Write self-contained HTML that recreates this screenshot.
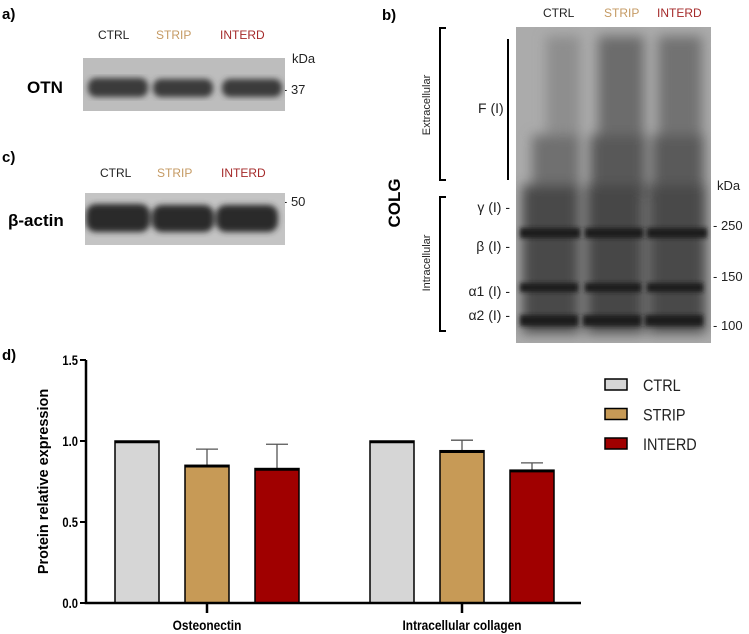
<!DOCTYPE html>
<html><head><meta charset="utf-8">
<style>
body{margin:0;background:#fff;width:749px;height:634px;overflow:hidden;font-family:"Liberation Sans",sans-serif;}
svg{display:block}
</style></head>
<body>
<svg width="749" height="634" viewBox="0 0 749 634" xmlns="http://www.w3.org/2000/svg">
<defs>
<filter id="bl" x="-20%" y="-20%" width="140%" height="140%"><feGaussianBlur stdDeviation="3"/></filter>
<filter id="bl5" x="-20%" y="-20%" width="140%" height="140%"><feGaussianBlur stdDeviation="6"/></filter>
<filter id="bl2" x="-20%" y="-50%" width="140%" height="200%"><feGaussianBlur stdDeviation="2.2"/></filter>
<clipPath id="cb"><rect x="516" y="27" width="195" height="316"/></clipPath>
<clipPath id="ca"><rect x="83" y="58" width="202" height="53"/></clipPath>
<clipPath id="cc"><rect x="85" y="193" width="200" height="52"/></clipPath>
</defs>

<g>
<text x="2" y="19" font-size="15" font-weight="bold">a)</text>
<text x="98" y="39" font-size="12" fill="#222">CTRL</text>
<text x="156" y="39" font-size="12" fill="#c59a63">STRIP</text>
<text x="220" y="39" font-size="12" fill="#a52a2a">INTERD</text>
<text x="292" y="63" font-size="13" fill="#222">kDa</text>
<text x="283" y="94" font-size="13" fill="#222">- 37</text>
<text x="27" y="93" font-size="17" font-weight="bold">OTN</text>
<g clip-path="url(#ca)">
<rect x="83" y="58" width="202" height="53" fill="#bdbdbd"/>
<g filter="url(#bl)" fill="#3a3a3a">
<rect x="88" y="78" width="60" height="19" rx="8"/>
<rect x="153" y="79" width="60" height="18" rx="8"/>
<rect x="222" y="79" width="60" height="18" rx="8"/>
</g></g>
</g>

<g>
<text x="2" y="162" font-size="15" font-weight="bold">c)</text>
<text x="100" y="177" font-size="12" fill="#222">CTRL</text>
<text x="157" y="177" font-size="12" fill="#c59a63">STRIP</text>
<text x="221" y="177" font-size="12" fill="#a52a2a">INTERD</text>
<text x="283" y="206" font-size="13" fill="#222">- 50</text>
<text x="8" y="226" font-size="17" font-weight="bold">β-actin</text>
<g clip-path="url(#cc)">
<rect x="85" y="193" width="200" height="52" fill="#c4c4c4"/>
<g filter="url(#bl)" fill="#2a2a2a">
<rect x="86" y="204" width="64" height="28" rx="10"/>
<rect x="152" y="205" width="62" height="27" rx="10"/>
<rect x="216" y="205" width="62" height="27" rx="10"/>
</g></g>
</g>

<g>
<text x="382" y="20" font-size="15" font-weight="bold">b)</text>
<text x="543" y="17" font-size="12" fill="#222">CTRL</text>
<text x="604" y="17" font-size="12" fill="#c59a63">STRIP</text>
<text x="657" y="17" font-size="12" fill="#a52a2a">INTERD</text>
<g clip-path="url(#cb)">
<rect x="516" y="27" width="195" height="316" fill="#ababab"/>
<g filter="url(#bl5)">
<rect x="546" y="36" width="34" height="120" fill="#8e8e8e"/>
<rect x="598" y="36" width="46" height="120" fill="#6c6c6c"/>
<rect x="658" y="36" width="44" height="120" fill="#727272"/>
<rect x="532" y="135" width="48" height="60" fill="#707070"/>
<rect x="590" y="135" width="56" height="60" fill="#585858"/>
<rect x="652" y="135" width="52" height="60" fill="#5a5a5a"/>
<rect x="522" y="185" width="58" height="148" fill="#4a4a4a"/>
<rect x="586" y="185" width="58" height="148" fill="#474747"/>
<rect x="648" y="185" width="58" height="148" fill="#494949"/>
</g>
<g filter="url(#bl2)" fill="#1e1e1e">
<rect x="520" y="228" width="60" height="10"/><rect x="585" y="228" width="58" height="10"/><rect x="647" y="228" width="60" height="10"/>
<rect x="520" y="283" width="58" height="9"/><rect x="585" y="283" width="56" height="9"/><rect x="647" y="283" width="56" height="9"/>
<rect x="520" y="315" width="58" height="11"/><rect x="583" y="315" width="58" height="11"/><rect x="645" y="315" width="58" height="11"/>
</g>
</g>
<path d="M446,28 H440 V180 H446" fill="none" stroke="#000" stroke-width="2"/>
<line x1="508" y1="39" x2="508" y2="180" stroke="#000" stroke-width="2"/>
<text transform="translate(430,105) rotate(-90)" text-anchor="middle" font-size="11" fill="#222">Extracellular</text>
<text x="478" y="113" font-size="14" fill="#222">F (I)</text>
<text transform="translate(400,203) rotate(-90)" text-anchor="middle" font-size="17" font-weight="bold">COLG</text>
<path d="M446,197 H440 V331 H446" fill="none" stroke="#000" stroke-width="2"/>
<text transform="translate(430,263) rotate(-90)" text-anchor="middle" font-size="11" fill="#222">Intracellular</text>
<g font-size="14" fill="#222" text-anchor="end">
<text x="510" y="212">γ (I)  -</text>
<text x="510" y="251">β (I)  -</text>
<text x="510" y="296">α1 (I)  -</text>
<text x="510" y="320">α2 (I)  -</text>
</g>
<g font-size="13" fill="#222">
<text x="717" y="190">kDa</text>
<text x="713" y="230">- 250</text>
<text x="713" y="281">- 150</text>
<text x="713" y="330">- 100</text>
</g>
</g>

<text x="2" y="360" font-size="15" font-weight="bold">d)</text>
<g id="chart"></g>
</svg>
<script>
const categories=["Osteonectin","Intracellular collagen"];
const groups=["CTRL","STRIP","INTERD"];
const ctrlValues=[1.0,1.0];
const stripValues=[0.85,0.94];
const interdValues=[0.83,0.82];
const stripErr=[0.10,0.065];
const interdErr=[0.15,0.045];
const yTicks=[0,0.5,1.0,1.5];
const yTickLabels=["0.0","0.5","1.0","1.5"];

const NS="http://www.w3.org/2000/svg";
const g=document.getElementById('chart');
const colors=["#d6d6d6","#c79a56","#a00000"];
const x0=86,x1=581,yTop=360,yBot=603,yMax=1.5;
const y=v=>yBot-(v/yMax)*(yBot-yTop);
const catCenter=i=>207+i*255;
const barW=44,step=70;
function mk(t,a){const e=document.createElementNS(NS,t);for(const k in a)e.setAttribute(k,a[k]);g.appendChild(e);return e;}
const series=[ctrlValues,stripValues,interdValues];
const errs=[null,stripErr,interdErr];
categories.forEach((c,i)=>{
  series.forEach((s,j)=>{
    const cx=catCenter(i)+(j-1)*step;
    const e=errs[j];
    if(e){
      const ln=mk('path',{d:`M${cx},${y(s[i])} V${y(s[i]+e[i])} M${cx-11},${y(s[i]+e[i])} H${cx+11}`,stroke:'#555','stroke-width':1.3,fill:'none'});
      
      
    }
    const r=mk('rect',{x:cx-barW/2,y:y(s[i]),width:barW,height:yBot-y(s[i]),fill:colors[j],stroke:'#000','stroke-width':1.5});
    
    
    const top=mk('line',{x1:cx-barW/2,x2:cx+barW/2,y1:y(s[i])+1,y2:y(s[i])+1,stroke:'#000','stroke-width':2.5});
    
    
  });
  const tk=mk('line',{x1:catCenter(i),x2:catCenter(i),y1:yBot,y2:yBot+10,stroke:'#000','stroke-width':2.5});
  
  
  const lb=mk('text',{x:catCenter(i),y:yBot+27,'text-anchor':'middle','font-size':14,'font-weight':'bold',transform:`translate(${catCenter(i)},0) scale(0.85,1) translate(${-catCenter(i)},0)`});
  lb.textContent=c;
  
  
});
const ax=mk('path',{d:`M${x0},${yTop} V${yBot} H${x1}`,stroke:'#000','stroke-width':2.5,fill:'none'});


yTicks.forEach((t,k)=>{
  const l=mk('line',{x1:x0-6,x2:x0,y1:y(t),y2:y(t),stroke:'#000','stroke-width':2});
  
  
  const tx=mk('text',{x:x0-8,y:y(t)+5,'text-anchor':'end','font-size':14,'font-weight':'bold',transform:`translate(${x0-8},0) scale(0.8,1) translate(${-(x0-8)},0)`});
  tx.textContent=yTickLabels[k];
  
  
});
const yt=mk('text',{transform:`translate(48,${(yTop+yBot)/2}) rotate(-90)`,'text-anchor':'middle','font-size':14.5,'font-weight':'bold'});
yt.textContent='Protein relative expression';


groups.forEach((n,j)=>{
  const ly=385+j*29.5;
  const r=mk('rect',{x:605,y:ly-6,width:22,height:11,fill:colors[j],stroke:'#000','stroke-width':1.5});
  
  
  const t=mk('text',{x:643,y:ly+6,'font-size':17,fill:'#222',transform:`translate(643,0) scale(0.85,1) translate(-643,0)`});
  t.textContent=n;
  
  
});
</script>
</body></html>
